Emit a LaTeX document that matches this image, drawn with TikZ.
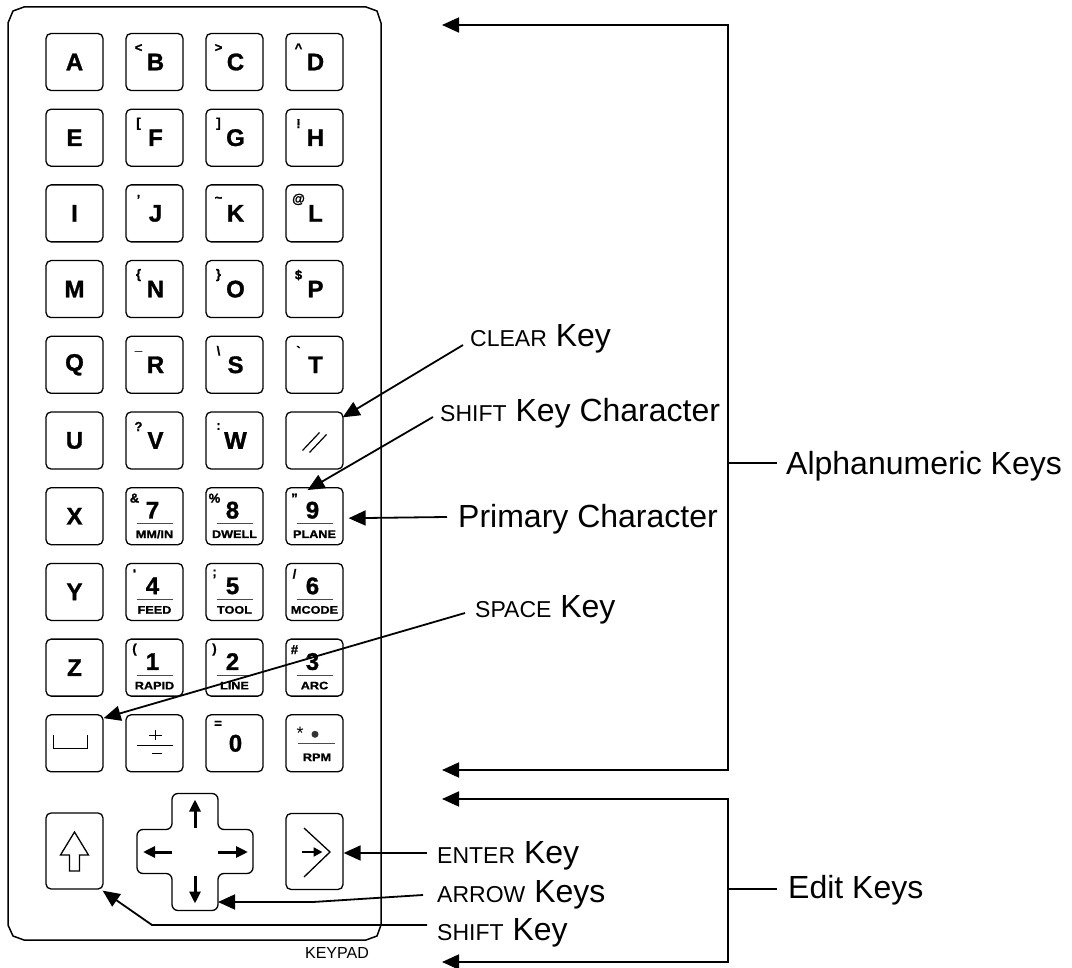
\documentclass[tikz,border=0pt]{standalone}
\usepackage{fontspec}
\setmainfont{Liberation Sans}
\newfontfamily\heavysans[FakeBold=1.2]{Liberation Sans}
\usetikzlibrary{arrows.meta}
\usetikzlibrary{positioning}
\usetikzlibrary{calc}
\tikzset{keybox/.style = {draw, rounded corners = 5pt, line width = 1.3pt, minimum width = 57pt, minimum height = 57pt, inner sep = 0}}
\tikzset{keychar/.style = {font = \fontsize{24}{26}\selectfont\heavysans\bfseries, inner sep = 0}}
\tikzset{shiftchar/.style = {font = \fontsize{13}{14}\selectfont\heavysans\bfseries, inner sep = 0}}
\tikzset{fnchar/.style = {font = \fontsize{11}{12}\selectfont\heavysans\bfseries, inner sep = 0}}
\tikzset{keyrule/.style = {line width = 0.8pt, black!70}}
\tikzset{callout/.style = {font = \fontsize{32}{38}\selectfont, inner sep = 3pt, anchor = base west}}
\tikzset{leader/.style = {line width = 1.8pt, -{Triangle[length = 17pt, width = 15pt]}}}
\tikzset{bracket/.style = {line width = 1.8pt, {Triangle[length = 17pt, width = 15pt]}-{Triangle[length = 17pt, width = 15pt]}}}
\tikzset{padarrow/.style = {line width = 3pt, -{Triangle[length = 12pt, width = 11pt]}}}
\newcommand{\smallword}[1]{{\fontsize{23}{26}\selectfont #1}}
\newcommand{\keylabel}[1]{\scalebox{1.15}[1]{#1}}

\begin{document}
\begin{tikzpicture}[x = 1pt, y = -1pt]
  \useasboundingbox (0, 0) rectangle (1072, 968);

  % keypad outline
  \draw [line width = 1.5pt] (8, 23) -- (13, 11) -- (24, 7) -- (366, 7) -- (377, 11) -- (381, 23)
    -- (381, 925) -- (377, 936) -- (366, 940) -- (24, 940) -- (13, 936) -- (8, 925) -- cycle;
  \node [font = \fontsize{16}{18}\selectfont] (keypad) at (337, 953) {KEYPAD};

  % letter keys
  \foreach \kn [count = \kr] in {A, E, I, M, Q, U, X, Y, Z} {
    \node [keybox] (key\kn) at (74.5, {62 + 75.7*(\kr - 1)}) {};
    \node [keychar] at (key\kn) {\kn};
  }
  \foreach \kn/\kc/\kr/\ks in {B/2/1/<, C/3/1/>, D/4/1/\textasciicircum, F/2/2/[, G/3/2/], H/4/2/!,
      J/2/3/’, K/3/3/\textasciitilde, L/4/3/@, N/2/4/\{, O/3/4/\}, P/4/4/\$,
      R/2/5/\_, S/3/5/\textbackslash, T/4/5/\textasciigrave, V/2/6/?, W/3/6/:} {
    \node [keybox] (key\kn) at ({74.5 + 80*(\kc - 1)}, {62 + 75.7*(\kr - 1)}) {};
    \node [keychar] at ($(key\kn) + (1, 0)$) {\kn};
    \node [shiftchar] at ($(key\kn) + (-16, -14)$) {\ks};
  }

  % clear key
  \node [keybox] (keyclr) at (314.5, 440.5) {};
  \draw [line width = 1.2pt] ($(keyclr) + (-12, 10)$) -- ++(17, -18);
  \draw [line width = 1.2pt] ($(keyclr) + (-5, 12)$) -- ++(17, -18);

  % number keys
  \foreach \kn/\kc/\kr/\ks/\kl in {7/2/7/\&/{MM/IN}, 8/3/7/\%/DWELL, 9/4/7/”/PLANE,
      4/2/8/\textquotesingle/FEED, 5/3/8/;/TOOL, 6/4/8/\slash/MCODE,
      1/2/9/(/RAPID, 2/3/9/)/LINE, 3/4/9/\#/ARC} {
    \node [keybox] (key\kn) at ({74.5 + 80*(\kc - 1)}, {62 + 75.7*(\kr - 1)}) {};
    \node [keychar] at ($(key\kn) + (-2, -6)$) {\kn};
    \draw [keyrule] ($(key\kn) + (-18, 7.5)$) -- ($(key\kn) + (18, 7.5)$);
    \node [fnchar] at ($(key\kn) + (0, 18)$) {\keylabel{\kl}};
    \node [shiftchar] at ($(key\kn) + (-20, -18)$) {\ks};
  }

  % bottom row of the grid
  \node [keybox] (keyspc) at (74.5, 743.3) {};
  \draw [line width = 1.3pt] ($(keyspc) + (-21, -8)$) -- ++(0, 13) -- ++(34, 0) -- ++(0, -13);

  \node [keybox] (keypm) at (154.5, 743.3) {};
  \draw [line width = 1pt] ($(keypm) + (-5.5, -8)$) -- ++(13, 0);
  \draw [line width = 1pt] ($(keypm) + (1, -13)$) -- ++(0, 10);
  \draw [line width = 1pt] ($(keypm) + (-17.5, 2)$) -- ++(36, 0);
  \draw [line width = 1pt] ($(keypm) + (-2.5, 10)$) -- ++(10, 0);

  \node [keybox] (key0) at (234.5, 743.3) {};
  \node [keychar] at ($(key0) + (1, 0)$) {0};
  \node [shiftchar] at ($(key0) + (-16.5, -19)$) {=};

  \node [keybox] (keydot) at (314.5, 743.3) {};
  \node [font = \fontsize{18}{20}\selectfont, inner sep = 0] at ($(keydot) + (-14.5, -10)$) {*};
  \fill [black!80] ($(keydot) + (0.5, -9)$) circle [radius = 3.5];
  \draw [keyrule] ($(keydot) + (-16.5, 0)$) -- ($(keydot) + (20.5, 0)$);
  \node [fnchar] at ($(keydot) + (2.5, 14)$) {\keylabel{RPM}};

  % edit keys
  \node [keybox, minimum height = 76pt] (keyshift) at (74.5, 851) {};
  \draw [line width = 1.3pt] ($(keyshift) + (0, -19)$) -- ++(14, 23) -- ++(-9, 0) -- ++(0, 16)
    -- ++(-10, 0) -- ++(0, -16) -- ++(-9, 0) -- cycle;

  \node [keybox, minimum height = 76pt] (keyenter) at (314.5, 851.5) {};
  \draw [line width = 1.3pt] ($(keyenter) + (-10.5, -23.5)$) -- ++(26, 24) -- ++(-26, 25);
  \draw [line width = 2.5pt, -{Triangle[length = 9pt, width = 9pt]}] ($(keyenter) + (-13, 0.5)$) -- ($(keyenter) + (8, 0.5)$);

  \coordinate (pad) at (195, 851.5);
  \draw [line width = 1.3pt, rounded corners = 6pt] ($(pad) + (-23, -58)$) -- ++(46, 0) -- ++(0, 36)
    -- ++(35, 0) -- ++(0, 44) -- ++(-35, 0) -- ++(0, 37) -- ++(-46, 0) -- ++(0, -37)
    -- ++(-35, 0) -- ++(0, -44) -- ++(35, 0) -- cycle;
  \draw [padarrow] ($(pad) + (0, -24)$) -- ($(pad) + (0, -52)$);
  \draw [padarrow] ($(pad) + (0, 24)$) -- ($(pad) + (0, 52)$);
  \draw [padarrow] ($(pad) + (-23, 0.5)$) -- ($(pad) + (-52, 0.5)$);
  \draw [padarrow] ($(pad) + (23, 0.5)$) -- ($(pad) + (53, 0.5)$);
  \coordinate (padtip) at ($(pad) + (23, 50.5)$);

  % callouts
  \node [callout] (clearlbl) at (467, 347) {\smallword{CLEAR} Key};
  \draw [leader] ($(clearlbl.base west) + (-4, -2)$) -- ($(keyclr.north east) + (-1, 6)$);

  \node [callout] (shiftchlbl) at (437, 422) {\smallword{SHIFT} Key Character};
  \draw [leader] ($(shiftchlbl.base west) + (-4, -5)$) -- ($(key9.north) + (-7, 3)$);

  \node [callout] (primlbl) at (455, 527) {Primary Character};
  \draw [leader] ($(primlbl.base west) + (-8, -10)$) -- ($(key9.east) + (5, 2)$);

  \node [callout] (spacelbl) at (472, 617) {\smallword{SPACE} Key};
  \draw [leader] ($(spacelbl.base west) + (-7, -4)$) -- ($(keyspc.north east) + (0, 4)$);

  \node [callout] (enterlbl) at (434, 863) {\smallword{ENTER} Key};
  \draw [leader] ($(enterlbl.base west) + (-7, -10)$) -- ($(keyenter.east) + (0, 1.5)$);

  \node [callout] (arrowlbl) at (434, 902) {\smallword{ARROW} Keys};
  \coordinate (arrowbend) at (313, 902);
  \draw [leader] ($(arrowlbl.base west) + (-11, -7)$) -- (arrowbend) -- (padtip);

  \node [callout] (shiftlbl) at (434, 940) {\smallword{SHIFT} Key};
  \coordinate (shiftbend) at (152, 925);
  \draw [leader] ($(shiftlbl.base west) + (-7, -15)$) -- (shiftbend) -- ($(keyshift.south east) + (-1, 1)$);

  % groups
  \coordinate (alnumtop) at (442, 25);
  \coordinate (alnumbar) at (728, 463);
  \coordinate (alnumbot) at (442, 770);
  \draw [bracket] (alnumtop) -| (alnumbar) |- (alnumbot);
  \node [callout] (alnumlbl) at (783, 474.5) {Alphanumeric Keys};
  \draw [line width = 1.8pt] (alnumbar) -- ($(alnumlbl.base west) + (-6, -11.5)$);

  \coordinate (edittop) at (442, 799);
  \coordinate (editbar) at (728, 889);
  \coordinate (editbot) at (442, 962);
  \draw [bracket] (edittop) -| (editbar) |- (editbot);
  \node [callout] (editlbl) at (785, 898) {Edit Keys};
  \draw [line width = 1.8pt] (editbar) -- ($(editlbl.base west) + (-8, -9)$);
\end{tikzpicture}
\end{document}
